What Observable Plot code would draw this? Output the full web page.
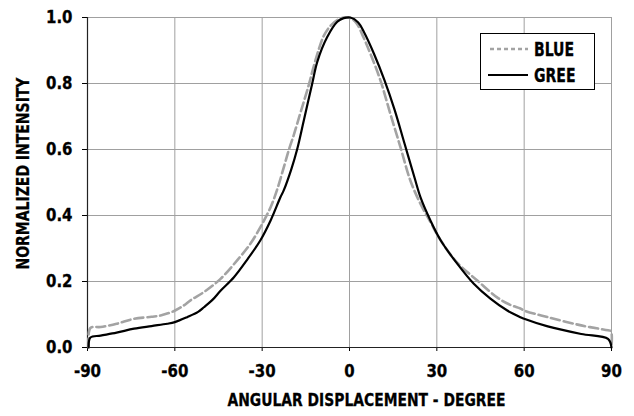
<!DOCTYPE html>
<html>
<head>
<meta charset="utf-8">
<script src="https://cdn.jsdelivr.net/npm/d3@7"></script>
<script src="https://cdn.jsdelivr.net/npm/@observablehq/plot@0.6"></script>
<style>
  html, body { margin: 0; padding: 0; background: #fff; }
  #wrap { position: relative; width: 634px; height: 416px; }
  #wrap svg text { font-family: "DejaVu Sans Condensed", "DejaVu Sans", sans-serif; font-weight: bold; font-stretch: condensed; font-size: 18.5px; fill: #000; stroke: #000; stroke-width: 0.3px; }
  #legend { position: absolute; left: 480px; top: 33px; width: 113px; height: 55px; border: 1.5px solid #000; background: #fff;
    font-family: "DejaVu Sans Condensed", "DejaVu Sans", sans-serif; font-weight: bold; font-stretch: condensed; font-size: 20px; color: #000; -webkit-text-stroke: 0.3px #000; }
  #legend .row { position: absolute; left: 7px; height: 22px; display: flex; align-items: center; white-space: nowrap; }
  #legend svg { margin-right: 6px; flex: none; }
  #legend span { display: inline-block; transform: scaleX(0.78); transform-origin: left center; }
</style>
</head>
<body>
<div id="wrap"></div>
<script>
// ---- data ----
const xTicks = [-90, -60, -30, 0, 30, 60, 90];
const yTicks = [0, 0.2, 0.4, 0.6, 0.8, 1.0];
const seriesNames = ["BLUE", "GREE"];
const xLabel = "ANGULAR DISPLACEMENT - DEGREE";
const yLabel = "NORMALIZED INTENSITY";

const blueDeg = [-89.6, -89.0, -85.5, -80, -74, -68, -64.9, -60.4, -57, -54.6, -50, -44.3, -38.6, -34, -30.6, -27.1, -24.8, -22.6, -20.8, -19.1, -17.4, -15.7, -14.0, -12.5, -10.5, -8.8, -6.5, -4, -2, -0.8, 1.0, 2.6, 4.8, 7.2, 10.6, 14.0, 17.5, 20.9, 24.4, 27.8, 31.3, 37, 43.9, 50.7, 55, 58.7, 60, 68.1, 79.6, 88.8, 89.8, 90];
const blueVal = [0.0, 0.059, 0.062, 0.072, 0.087, 0.093, 0.097, 0.11, 0.127, 0.143, 0.168, 0.208, 0.264, 0.315, 0.365, 0.425, 0.48, 0.545, 0.60, 0.645, 0.695, 0.745, 0.795, 0.845, 0.905, 0.945, 0.975, 0.993, 1.0, 1.0, 0.995, 0.98, 0.94, 0.89, 0.81, 0.709, 0.607, 0.506, 0.435, 0.38, 0.325, 0.257, 0.203, 0.152, 0.13, 0.118, 0.112, 0.092, 0.067, 0.052, 0.05, 0.0];

const greenDeg = [-89.6, -89.0, -85.5, -80, -74, -68, -62.6, -60, -55.8, -52, -50, -47, -44.3, -39.7, -35, -30.6, -27.1, -23.7, -22.6, -20, -18, -15.7, -12.8, -11.1, -7.7, -4.2, -2, 0.3, 3, 5, 8.4, 12, 15.5, 18.9, 22.3, 24.4, 27.8, 31.3, 37, 42.7, 48.4, 54.2, 58.7, 60, 68.1, 79.6, 88.8, 90];
const greenVal = [0.0, 0.03, 0.036, 0.045, 0.057, 0.065, 0.072, 0.077, 0.092, 0.108, 0.122, 0.145, 0.172, 0.213, 0.268, 0.325, 0.385, 0.456, 0.476, 0.54, 0.60, 0.688, 0.80, 0.865, 0.94, 0.987, 0.998, 1.0, 0.985, 0.955, 0.89, 0.81, 0.72, 0.618, 0.516, 0.455, 0.385, 0.325, 0.254, 0.193, 0.148, 0.112, 0.092, 0.087, 0.064, 0.041, 0.026, 0.0];

const blue = blueDeg.map((d, i) => ({deg: d, v: blueVal[i]}));
const green = greenDeg.map((d, i) => ({deg: d, v: greenVal[i]}));

const gridColor = "#a0a0a0";

const chart = Plot.plot({
  width: 634,
  height: 416,
  marginLeft: 87,
  marginRight: 23,
  marginTop: 17,
  marginBottom: 69,
  style: {background: "#fff", color: "#000", overflow: "visible"},
  x: {domain: [-90, 90]},
  y: {domain: [0, 1]},
  marks: [
    Plot.gridX(xTicks, {stroke: gridColor, strokeOpacity: 1}),
    Plot.gridY(yTicks, {stroke: gridColor, strokeOpacity: 1}),
    Plot.frame({stroke: gridColor}),
    Plot.axisX({ticks: xTicks, tickFormat: d => String(d), tickSize: 4, tickPadding: 12,
      label: xLabel, labelAnchor: "center", labelOffset: 58, labelArrow: "none"}),
    Plot.axisY({ticks: yTicks, tickFormat: d3.format(".1f"), tickSize: 5, tickPadding: 10,
      label: yLabel, labelAnchor: "center", labelOffset: 72, labelArrow: "none"}),
    Plot.ruleY([0], {stroke: "#222", strokeWidth: 1.2}),
    Plot.ruleX([-90], {stroke: "#222", strokeWidth: 1.2}),
    Plot.line(blue, {x: "deg", y: "v", stroke: "#a3a3a3", strokeWidth: 2.6, strokeDasharray: "9,4", curve: "catmull-rom"}),
    Plot.line(green, {x: "deg", y: "v", stroke: "#000", strokeWidth: 2.2, curve: "catmull-rom"})
  ]
});

const wrap = document.getElementById("wrap");
wrap.appendChild(chart);

// condense the text horizontally to mimic the narrow bold face of the original
chart.querySelectorAll("text").forEach(t => {
  const g = t.closest("g[aria-label]");
  const role = g ? g.getAttribute("aria-label") : "";
  const len = t.getComputedTextLength();
  let target = len * 0.9;
  if (role === "x-axis label") { target = 278; t.setAttribute("dx", "17"); }
  if (role === "y-axis label") { target = 192; t.setAttribute("dx", "9"); }
  t.setAttribute("textLength", target.toFixed(1));
  t.setAttribute("lengthAdjust", "spacingAndGlyphs");
});

const legend = document.createElement("div");
legend.id = "legend";
legend.innerHTML =
  `<div class="row" style="top:4px"><svg width="40" height="6"><line x1="2" y1="3" x2="40" y2="3" stroke="#a3a3a3" stroke-width="2.6" stroke-dasharray="4,3"/></svg><span>${seriesNames[0]}</span></div>` +
  `<div class="row" style="top:30px"><svg width="40" height="6"><line x1="0" y1="3" x2="40" y2="3" stroke="#000" stroke-width="2.2"/></svg><span>${seriesNames[1]}</span></div>`;
wrap.appendChild(legend);
</script>
</body>
</html>
